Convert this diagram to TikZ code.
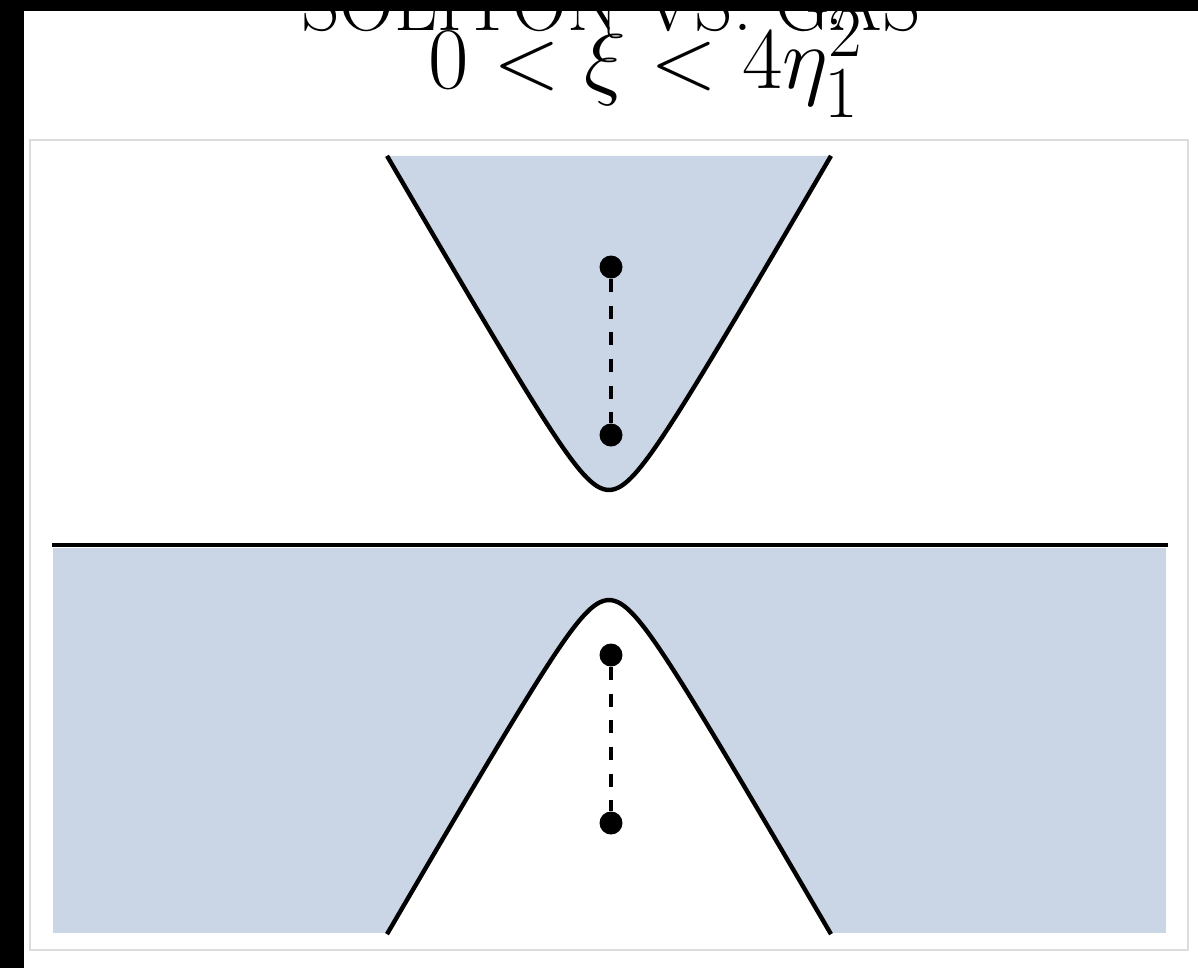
\documentclass[tikz,border=0pt]{standalone}
\usepackage{graphicx}
\usepackage{amsmath}
\definecolor{regionfill}{RGB}{202,213,230}
\definecolor{framegray}{RGB}{220,220,220}
\begin{document}
\begin{tikzpicture}[x=0.02cm,y=-0.02cm,
  curve/.style={line width=2.5pt,black,line join=round},
  dotnode/.style={circle,fill=black,inner sep=0pt,minimum size=0.46cm},
  dashconn/.style={line width=2.4pt,dash pattern=on 7.4pt off 7.8pt},
  titletext/.style={inner sep=0pt,anchor=base}]
\useasboundingbox (0,0) rectangle (1198,968);
\fill[white] (0,0) rectangle (1198,968);
% title
\node[titletext] (title) at (611,30) {\fontsize{43}{43}\selectfont SOLITON VS.\ GAS};
\node[titletext] (cond) at (646,88) {\scalebox{2.01}{\Huge $0<\xi<4\eta_1^2$}};
% black bands
\fill[black] (0,0) rectangle (1198,11);
\fill[black] (0,0) rectangle (24,968);
% frame
\draw[framegray,line width=1.6pt] (30,140) rectangle (1188,950);
% upper region
\fill[regionfill] plot[domain=-22.2:22.2,samples=120,smooth,variable=\t] ({609+10*\t},{490-17.3*(sqrt(\t*\t+9.61)-3.1)}) -- cycle;
\draw[curve] plot[domain=-22.2:22.2,samples=120,smooth,variable=\t] ({609+10*\t},{490-17.3*(sqrt(\t*\t+9.61)-3.1)});
% lower region
\fill[regionfill] (53,548) rectangle (1166,933);
\fill[white] plot[domain=-22.2:22.2,samples=120,smooth,variable=\t] ({609+10*\t},{600+17.3*(sqrt(\t*\t+9.61)-3.1)}) -- cycle;
\draw[curve] plot[domain=-22.2:22.2,samples=120,smooth,variable=\t] ({609+10*\t},{600+17.3*(sqrt(\t*\t+9.61)-3.1)});
% horizontal line
\coordinate (hl) at (52,545);
\coordinate (hr) at (1168,545);
\draw[line width=2.3pt] (hl) -- (hr);
% dots
\node[dotnode] (t1) at (611,267) {};
\node[dotnode] (t2) at (611,435) {};
\node[dotnode] (b1) at (611,655) {};
\node[dotnode] (b2) at (611,823) {};
\draw[dashconn] (t1) -- (t2);
\draw[dashconn] (b1) -- (b2);
\end{tikzpicture}
\end{document}
